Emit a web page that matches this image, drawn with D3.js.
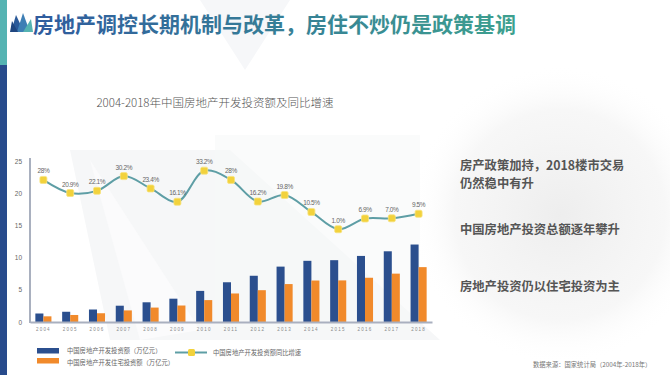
<!DOCTYPE html>
<html><head><meta charset="utf-8">
<script src="https://cdn.jsdelivr.net/npm/d3@7"></script>
<style>
html,body{margin:0;padding:0;background:#fff;}
svg{display:block;font-family:"Noto Sans CJK SC","Noto Sans",sans-serif;}
</style></head>
<body><svg id="c" width="670" height="375"></svg>
<script>
const years = ["2004","2005","2006","2007","2008","2009","2010","2011","2012","2013","2014","2015","2016","2017","2018"];
const totalInvest = [1.32,1.59,1.94,2.53,3.06,3.62,4.83,6.17,7.18,8.60,9.50,9.60,10.26,10.98,12.03];
const resInvest = [0.88,1.09,1.36,1.80,2.24,2.56,3.40,4.43,4.94,5.89,6.44,6.46,6.87,7.51,8.52];
const growth = [28.1,20.9,22.1,30.2,23.4,16.1,33.2,28.1,16.2,19.8,10.5,1.0,6.9,7.0,9.5];
const growthLabels = ["28%","20.9%","22.1%","30.2%","23.4%","16.1%","33.2%","28%","16.2%","19.8%","10.5%","1.0%","6.9%","7.0%","9.5%"];
const yTicks = [0,5,10,15,20,25];
const seriesNames = ["中国房地产开发投资额（万亿元）","中国房地产开发住宅投资额（万亿元）","中国房地产开发投资额同比增速"];
const chartTitle = "2004-2018年中国房地产开发投资额及同比增速";
const pageTitle = "房地产调控长期机制与改革，房住不炒仍是政策基调";
const notes = [["房产政策加持，2018楼市交易","仍然稳中有升"],["中国房地产投资总额逐年攀升"],["房地产投资仍以住宅投资为主"]];
const source = "数据来源：国家统计局（2004年-2018年）";

const svg = d3.select("#c");
const defs = svg.append("defs");
const g1 = defs.append("linearGradient").attr("id","tg").attr("gradientUnits","userSpaceOnUse")
  .attr("x1",33).attr("x2",508).attr("y1",0).attr("y2",0);
g1.append("stop").attr("offset","0%").attr("stop-color","#2f5b9e");
g1.append("stop").attr("offset","100%").attr("stop-color","#3d9f8f");
const rg = defs.append("radialGradient").attr("id","globe");
rg.append("stop").attr("offset","0%").attr("stop-color","#e6e6e6").attr("stop-opacity",0.7);
rg.append("stop").attr("offset","70%").attr("stop-color","#efefef").attr("stop-opacity",0.5);
rg.append("stop").attr("offset","100%").attr("stop-color","#fff").attr("stop-opacity",0);

// background decorations
svg.append("circle").attr("cx",560).attr("cy",215).attr("r",150).attr("fill","url(#globe)");
svg.append("polygon").attr("points","70,150 230,150 440,340 110,340").attr("fill","#f6f7f8");
svg.append("polygon").attr("points","90,160 200,330 140,340").attr("fill","#fbfbfc");
svg.append("polygon").attr("points","215,135 420,135 420,330 215,330").attr("fill","#f7f8f9").attr("opacity",0.6);
svg.append("polygon").attr("points","200,0 290,0 245,70").attr("fill","#f6f7f9");

// left strip
svg.append("rect").attr("x",0).attr("y",0).attr("width",7).attr("height",65).attr("fill","#55b3b2");
svg.append("rect").attr("x",0).attr("y",65).attr("width",7).attr("height",310).attr("fill","#284b8c");

// icon
const ic = svg.append("g");
ic.append("polygon").attr("points","11,32 16,15 24,32").attr("fill","#2b5a99");
ic.append("polygon").attr("points","17,32 23,13 30,32").attr("fill","#3e7fb5");
ic.append("polygon").attr("points","23,32 31,19 33,32").attr("fill","#55b3b2");
ic.append("polygon").attr("points","10,32 12,21 18,32").attr("fill","#1f4680");

// page title
svg.append("text").attr("x",33).attr("y",31.5).attr("font-size",21).attr("font-weight",700)
  .attr("fill","url(#tg)").text(pageTitle);

// chart title
svg.append("text").attr("x",215).attr("y",107).attr("text-anchor","middle").attr("font-size",11.5)
  .attr("fill","#555").attr("font-weight",300).text(chartTitle);

// scales
const x = d3.scaleBand().domain(years).range([30,432]).paddingInner(0.4).paddingOuter(0.2);
const x1 = d3.scaleBand().domain(["t","r"]).range([0,x.bandwidth()]);
const y = d3.scaleLinear().domain([0,25]).range([322,161]);
const y2 = d3.scaleLinear().domain([-50,38.5]).range([322,161]);

// y axis labels
const yAxis = d3.axisLeft(y).tickValues(yTicks).tickSize(0).tickPadding(8);
const ya = svg.append("g").attr("transform","translate(30,0)").call(yAxis);
ya.select(".domain").remove();
ya.selectAll("text").attr("font-size",6.5).attr("fill","#666").attr("font-family","Liberation Sans Narrow, Liberation Sans, sans-serif");

// bars
const bars = svg.append("g");
years.forEach((yr,i)=>{
  bars.append("rect").attr("x",x(yr)+x1("t")).attr("y",y(totalInvest[i])).attr("width",x1.bandwidth())
    .attr("height",y(0)-y(totalInvest[i])).attr("fill","#2b4f8e");
  bars.append("rect").attr("x",x(yr)+x1("r")).attr("y",y(resInvest[i])).attr("width",x1.bandwidth())
    .attr("height",y(0)-y(resInvest[i])).attr("fill","#f18a2b");
});

// axes lines
svg.append("line").attr("x1",30).attr("x2",30).attr("y1",158).attr("y2",y(0)+1).attr("stroke","#a9b0bf").attr("stroke-width",2);
const xAxis = d3.axisBottom(x).tickSize(0).tickPadding(6);
const xa = svg.append("g").attr("transform",`translate(0,${y(0)})`).call(xAxis);
xa.select(".domain").attr("stroke","#a9b0bf").attr("stroke-width",2);
xa.selectAll("text").attr("font-size",4.5).attr("fill","#888").attr("letter-spacing",1.2);

// growth line
const pts = years.map((yr,i)=>[x(yr)+x.bandwidth()/2, y2(growth[i])]);
svg.append("path").attr("d",d3.line().curve(d3.curveCatmullRom.alpha(0.5))(pts))
  .attr("fill","none").attr("stroke","#5e9ea5").attr("stroke-width",2);
svg.append("g").selectAll("rect").data(pts).join("rect")
  .attr("x",d=>d[0]-3.5).attr("y",d=>d[1]-3.5).attr("width",7).attr("height",7).attr("rx",1.5)
  .attr("fill","#f2d23c").attr("stroke","#f7e27e").attr("stroke-width",0.8);
svg.append("g").selectAll("text").data(pts).join("text")
  .attr("x",d=>d[0]).attr("y",d=>d[1]-6.5).attr("text-anchor","middle").attr("font-size",6.5)
  .attr("letter-spacing",-0.4).attr("fill","#666").attr("font-family","Liberation Sans Narrow, Liberation Sans, sans-serif")
  .text((d,i)=>growthLabels[i]);

// legend
const lg = svg.append("g");
lg.append("rect").attr("x",37).attr("y",348).attr("width",22).attr("height",5.5).attr("fill","#2b4f8e");
lg.append("rect").attr("x",37).attr("y",358).attr("width",22).attr("height",5.5).attr("fill","#f18a2b");
lg.append("text").attr("x",67).attr("y",353).attr("font-size",6.3).attr("fill","#666").text(seriesNames[0]);
lg.append("text").attr("x",67).attr("y",365).attr("font-size",6.3).attr("fill","#666").text(seriesNames[1]);
lg.append("line").attr("x1",175).attr("x2",207).attr("y1",352.5).attr("y2",352.5).attr("stroke","#5e9ea5").attr("stroke-width",2);
lg.append("rect").attr("x",188).attr("y",349).attr("width",7).attr("height",7).attr("rx",1.5).attr("fill","#f2d23c");
lg.append("text").attr("x",213).attr("y",355).attr("font-size",6.3).attr("fill","#666").text(seriesNames[2]);

// notes
const nt = svg.append("g").attr("font-size",12.3).attr("font-weight",700).attr("fill","#555");
nt.append("text").attr("x",460).attr("y",170).text(notes[0][0]);
nt.append("text").attr("x",460).attr("y",188).text(notes[0][1]);
nt.append("text").attr("x",460).attr("y",234).text(notes[1][0]);
nt.append("text").attr("x",460).attr("y",291).text(notes[2][0]);

// source
svg.append("text").attr("x",533).attr("y",367).attr("font-size",6.3).attr("fill","#777").text(source);
</script></body></html>
